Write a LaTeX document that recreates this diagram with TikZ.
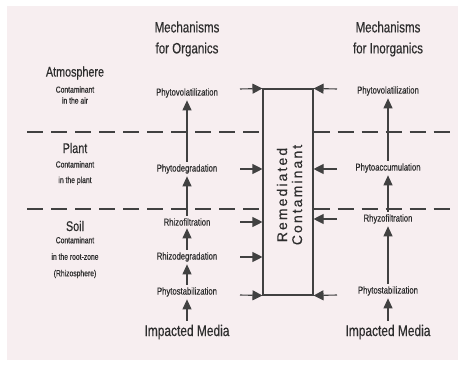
\documentclass[tikz,border=0pt]{standalone}
\usepackage{fontspec}
\setmainfont{Liberation Sans}
\newfontfamily\narrowf[FakeStretch=0.77,FakeBold=0.4]{Liberation Sans}
\newfontfamily\spacedf[LetterSpace=15,FakeBold=0.3]{Liberation Sans}
\usetikzlibrary{arrows.meta}
\definecolor{bgpink}{RGB}{247,238,240}
\definecolor{ink}{RGB}{45,45,45}
\definecolor{linec}{RGB}{65,65,65}
\begin{document}
\begin{tikzpicture}[x=1pt,y=-1pt,
  every node/.style={text=ink, inner sep=1.5pt},
  head/.style={font=\narrowf\fontsize{15}{21}\selectfont, align=center},
  zone/.style={font=\narrowf\fontsize{14}{15}\selectfont},
  zdesc/.style={font=\narrowf\fontsize{8.8}{#1}\selectfont, align=center},
  mech/.style={font=\narrowf\fontsize{10}{11}\selectfont, inner sep=2.5pt},
  media/.style={font=\narrowf\fontsize{15.5}{16}\selectfont, inner xsep=2pt, inner ysep=4pt},
  uparrow/.style={draw=linec, line width=1.1pt, -{Triangle[length=10pt,width=9pt]}},
  harrow/.style={draw=linec, line width=1.1pt, -{Triangle[length=10pt,width=10pt]}},
  zonesep/.style={draw=linec, line width=1.3pt, dash pattern=on 16pt off 8pt},
  boxline/.style={draw=linec, line width=1.1pt},
]
\fill[white] (0,0) rectangle (458,366);
\fill[bgpink] (7,6) rectangle (458,360);
\useasboundingbox (0,0) rectangle (458,366);

% headings
\node[head] (hO) at (187,39) {Mechanisms\\for Organics};
\node[head] (hI) at (388,39) {Mechanisms\\for Inorganics};

% zones
\node[zone] (atm) at (75,73) {Atmosphere};
\node[zdesc=11] (atmd) at (75,95) {Contaminant\\in the air};
\node[zone] (plant) at (75,148) {Plant};
\node[zdesc=15.5] (plantd) at (75,173) {Contaminant\\in the plant};
\node[zone] (soil) at (75,226) {Soil};
\node[zdesc=16.5] (soild) at (75,257.5) {Contaminant\\in the root-zone\\(Rhizosphere)};

% central box
\node[boxline, minimum width=50pt, minimum height=206pt, inner sep=0pt] (rc) at (288,192) {};
\node[rotate=90, align=center, font=\spacedf\fontsize{14}{15}\selectfont] (rct) at (289.5,195) {Remediated\\Contaminant};

% zone separators
\coordinate (d1a) at (27,132);
\coordinate (d1b) at (455,132);
\coordinate (d2a) at (27,209);
\coordinate (d2b) at (455,209);
\draw[zonesep] (d1a) -- (rc.west |- d1a);
\draw[zonesep] (rc.east |- d1b) -- (d1b);
\draw[zonesep] (d2a) -- (rc.west |- d2a);
\draw[zonesep] (rc.east |- d2b) -- (d2b);

% organics column
\node[mech] (ovol) at (187,93) {Phytovolatilization};
\node[mech] (odeg) at (187,169) {Phytodegradation};
\node[mech] (orf) at (187,222) {Rhizofiltration};
\node[mech] (ordeg) at (187,257) {Rhizodegradation};
\node[mech] (ostab) at (187,292) {Phytostabilization};
\node[media] (omed) at (187,332) {Impacted Media};
\draw[uparrow] (omed) -- (ostab);
\draw[uparrow] (ostab) -- (ordeg);
\draw[uparrow] (ordeg) -- (orf);
\draw[uparrow] (orf) -- (odeg);
\draw[uparrow] (odeg) -- (ovol);

% inorganics column
\node[mech] (ivol) at (388,91) {Phytovolatilization};
\node[mech] (iacc) at (388,168) {Phytoaccumulation};
\node[mech] (irf) at (388,219) {Rhyzofiltration};
\node[mech] (istab) at (388,291) {Phytostabilization};
\node[media] (imed) at (388,332) {Impacted Media};
\draw[uparrow] (imed) -- (istab);
\draw[uparrow] (istab) -- (irf);
\draw[uparrow] (irf) -- (iacc);
\draw[uparrow] (iacc) -- (ivol);

% arrows into the box
\coordinate (lt1) at (240,89);
\coordinate (lt2) at (240,169);
\coordinate (lt3) at (240,222);
\coordinate (lt4) at (240,257);
\coordinate (lt5) at (240,295);
\coordinate (rt1) at (337,89);
\coordinate (rt2) at (337,169);
\coordinate (rt3) at (337,219);
\coordinate (rt4) at (337,295);
\draw[harrow] (lt1) -- (rc.north west);
\draw[harrow] (lt2) -- (rc.west |- lt2);
\draw[harrow] (lt3) -- (rc.west |- lt3);
\draw[harrow] (lt4) -- (rc.west |- lt4);
\draw[harrow] (lt5) -- (rc.south west);
\draw[harrow] (rt1) -- (rc.north east);
\draw[harrow] (rt2) -- (rc.east |- rt2);
\draw[harrow] (rt3) -- (rc.east |- rt3);
\draw[harrow] (rt4) -- (rc.south east);
\end{tikzpicture}
\end{document}
